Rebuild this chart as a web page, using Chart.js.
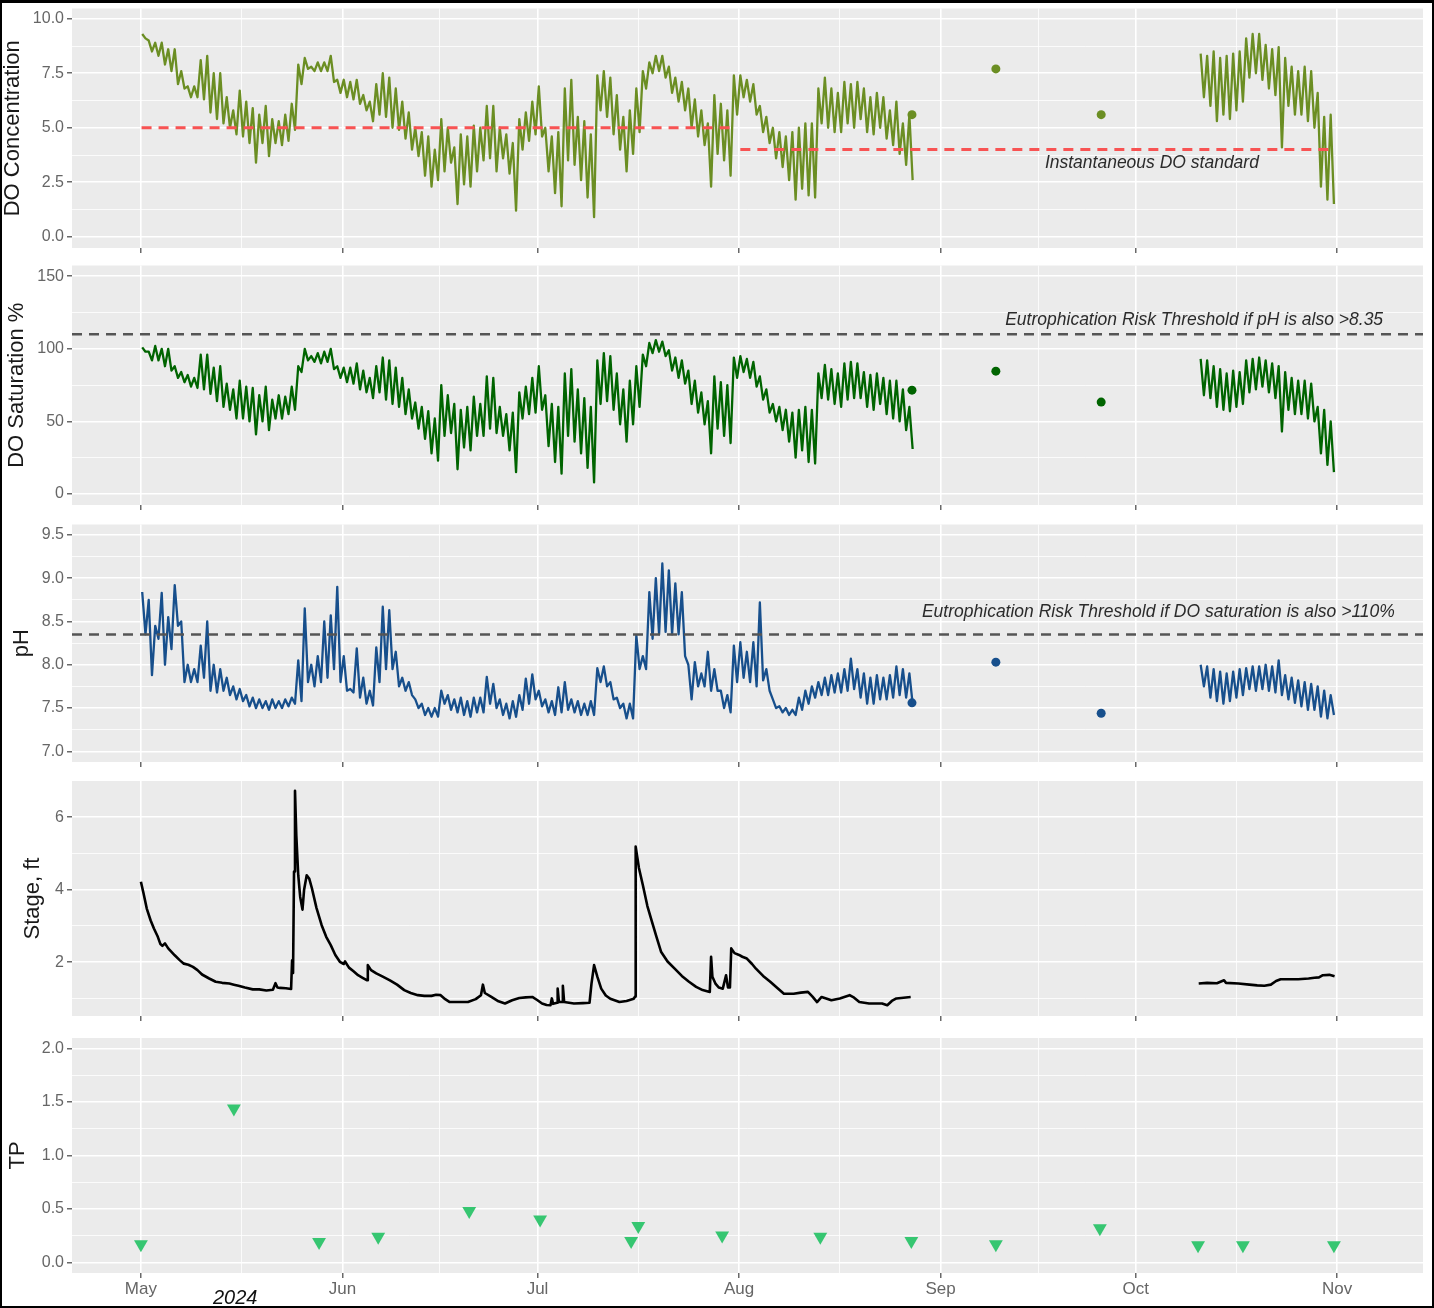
<!DOCTYPE html>
<html><head><meta charset="utf-8">
<script src="https://cdn.jsdelivr.net/npm/chart.js@4.4.1/dist/chart.umd.min.js"></script>
<style>
html,body{margin:0;padding:0;background:#fff;}
#wrap{position:relative;width:1434px;height:1308px;overflow:hidden;background:#fff;}
#wrap canvas{position:absolute;left:0;}
#frame{position:absolute;left:0;top:0;width:1434px;height:1308px;box-sizing:border-box;border:2px solid #000;border-top-width:3px;pointer-events:none;}
</style></head><body>
<div id="wrap">
<canvas id="c1" width="1434" height="252" style="top:4px"></canvas>
<canvas id="c2" width="1434" height="252" style="top:261px"></canvas>
<canvas id="c3" width="1434" height="250" style="top:520px"></canvas>
<canvas id="c4" width="1434" height="247" style="top:777px"></canvas>
<canvas id="c5" width="1434" height="278" style="top:1030px"></canvas>
<div id="frame"></div>
</div>
<script>
// ---------- x axis (days since 2024-05-01) ----------
const monthStarts = [0, 31, 61, 92, 123, 153, 184];
const monthLabels = ['May', 'Jun', 'Jul', 'Aug', 'Sep', 'Oct', 'Nov'];
const midMonths = [15.5, 46, 76.5, 107.5, 138, 168.5];
const dayMin = -10.6, dayMax = 197.2;
const yearLabel = '2024';

// ---------- sampling of continuous sondes (alternating daily high / low) ----------
const summerStart = 0.2;   // first reading, May 1
const fallStart = 163.0;   // redeployment, Oct 11
const stepDays = 0.5;

// DO concentration (mg/L)
const doSummer = [9.3,9.1, 9.0,8.5, 8.9,8.3, 8.9,7.9, 8.6,7.6, 8.6,7.0, 7.6,6.8, 6.9,6.4, 6.9,6.4, 8.1,6.3,
 8.3,5.7, 7.5,5.4, 7.5,5.2, 6.4,5.0, 5.8,4.7, 6.7,4.6, 6.2,4.3, 5.9,3.4, 5.6,4.3, 6.0,3.7,
 5.4,4.3, 5.3,4.2, 5.6,4.4, 6.1,4.9, 7.9,7.0, 8.2,7.7, 7.8,7.6, 8.0,7.6, 8.0,7.6, 8.3,7.1,
 7.2,6.6, 7.2,6.4, 7.1,6.3, 7.2,6.1, 6.5,5.8, 6.2,5.3, 7.0,5.6, 7.5,5.5, 7.3,5.0, 6.8,4.9,
 6.2,4.5, 5.7,4.0, 5.0,3.7, 4.8,2.8, 4.6,2.3, 4.0,2.6, 5.4,3.0, 5.0,3.4, 4.1,1.5, 4.7,2.4,
 4.6,2.3, 5.1,3.0, 5.0,3.5, 6.0,3.6, 6.0,3.0, 5.0,3.6, 4.7,2.9, 4.3,1.2, 5.4,4.0, 5.7,4.4,
 6.2,4.7, 6.9,4.6, 5.0,3.0, 4.6,2.0, 4.8,1.4, 6.8,3.5, 7.2,3.3, 5.5,2.6, 5.3,1.8, 4.7,0.9,
 7.4,5.8, 7.6,5.5, 7.3,4.7, 6.5,4.0, 5.5,3.0, 5.8,3.8, 6.8,4.8, 7.6,6.8, 8.0,7.5, 8.3,7.6,
 8.3,7.3, 7.8,6.6, 7.3,6.2, 7.1,5.8, 6.8,5.0, 6.3,4.6, 5.8,4.2, 5.2,2.3, 6.5,3.8, 6.1,3.5,
 5.8,2.8, 7.4,5.6, 7.4,6.4, 7.2,6.2, 7.0,5.6, 6.0,4.8, 5.5,4.3, 5.0,3.6, 4.8,3.2, 4.6,2.6,
 4.8,1.7, 5.0,2.2, 5.2,1.9, 5.2,1.8, 6.8,5.2, 7.3,5.0, 6.8,4.8, 6.6,4.8, 7.1,5.2, 7.0,5.0,
 7.1,5.4, 6.8,4.8, 6.4,4.7, 6.6,5.0, 6.4,4.5, 5.8,4.2, 6.2,3.8, 5.2,3.3, 5.6,2.6];
const doFall = [8.4,6.4, 8.3,6.0, 8.5,5.3, 8.2,5.6, 8.3,5.4, 8.4,5.8, 8.5,6.2, 9.1,7.3, 9.3,7.5, 9.3,7.2,
 8.8,6.8, 8.6,6.5, 8.7,4.1, 8.2,6.0, 7.8,5.6, 7.6,5.6, 7.8,5.3, 7.6,5.0, 6.6,2.3, 5.5,1.7, 5.6,1.5];

// DO saturation (%)
const satSummer = [101,98, 98,92, 102,92, 100,88, 100,85, 88,80, 84,77, 82,74, 80,73, 96,72,
 96,69, 87,64, 88,60, 76,58, 72,52, 78,52, 74,50, 73,41, 68,50, 74,44,
 65,52, 68,52, 67,55, 74,58, 88,84, 100,92, 95,91, 97,90, 98,91, 100,86,
 88,80, 87,77, 87,76, 90,72, 85,70, 80,66, 88,70, 94,65, 92,62, 87,60,
 80,55, 72,52, 63,45, 60,38, 57,28, 52,23, 75,40, 68,42, 62,17, 58,32,
 60,30, 67,40, 62,40, 81,45, 80,42, 60,40, 55,30, 56,15, 70,52, 74,55,
 80,56, 88,58, 68,33, 62,22, 60,14, 83,40, 86,36, 72,28, 66,18, 60,8,
 92,62, 97,64, 95,58, 83,48, 72,36, 78,48, 88,60, 96,88, 104,97, 106,98,
 105,95, 99,85, 94,80, 92,76, 85,62, 78,56, 70,48, 64,28, 81,45, 77,40,
 75,35, 94,80, 95,84, 93,80, 91,74, 81,65, 72,56, 62,50, 60,44, 58,36,
 56,25, 58,30, 60,22, 58,21, 83,66, 89,65, 86,62, 83,60, 90,65, 91,66,
 90,66, 84,60, 82,58, 83,62, 80,55, 78,52, 78,50, 72,44, 60,31];
const satFall = [93,68, 92,66, 88,60, 86,58, 83,57, 85,60, 84,62, 92,70, 93,72, 94,74,
 92,70, 90,66, 88,43, 84,58, 80,55, 78,55, 78,52, 76,50, 60,28, 58,20, 50,15];

// pH
const phSummer = [8.84,8.35, 8.75,7.88, 8.45,8.30, 8.83,8.00, 8.55,8.18, 8.92,8.45, 8.50,7.80, 8.00,7.80, 7.95,7.80, 8.22,7.85,
 8.50,7.70, 8.00,7.68, 7.95,7.70, 7.85,7.65, 7.75,7.60, 7.72,7.58, 7.65,7.52, 7.62,7.50, 7.60,7.50, 7.58,7.48,
 7.60,7.50, 7.58,7.50, 7.60,7.52, 7.62,7.55, 8.05,7.58, 8.65,7.80, 8.00,7.75, 8.10,7.80, 8.50,7.85, 8.57,7.95,
 8.90,7.80, 8.10,7.70, 7.72,7.68, 8.19,7.62, 7.85,7.55, 7.70,7.53, 8.20,7.80, 8.67,7.95, 8.63,7.95, 8.15,7.75,
 7.85,7.70, 7.80,7.65, 7.60,7.50, 7.55,7.42, 7.50,7.40, 7.50,7.40, 7.70,7.55, 7.65,7.48, 7.60,7.45, 7.62,7.42,
 7.58,7.40, 7.62,7.45, 7.62,7.45, 7.86,7.55, 7.78,7.50, 7.60,7.42, 7.55,7.38, 7.58,7.40, 7.65,7.48, 7.84,7.55,
 7.89,7.60, 7.70,7.52, 7.60,7.45, 7.58,7.42, 7.74,7.45, 7.80,7.48, 7.60,7.45, 7.58,7.42, 7.55,7.42, 7.58,7.42,
 7.96,7.80, 7.98,7.75, 7.80,7.60, 7.62,7.50, 7.55,7.38, 7.55,7.38, 8.34,7.95, 8.10,7.95, 8.84,8.30, 9.00,8.35,
 9.17,8.38, 9.09,8.35, 8.94,8.35, 8.84,8.10, 8.00,7.60, 8.03,7.75, 7.90,7.75, 8.15,7.70, 7.95,7.70, 7.70,7.50,
 7.65,7.45, 8.22,7.80, 8.26,7.85, 8.15,7.80, 8.26,7.75, 8.72,7.82, 7.95,7.70, 7.60,7.50, 7.52,7.45, 7.50,7.42,
 7.48,7.42, 7.62,7.48, 7.70,7.55, 7.75,7.62, 7.80,7.65, 7.85,7.65, 7.88,7.68, 7.90,7.68, 7.95,7.70, 8.07,7.72,
 7.95,7.62, 7.90,7.55, 7.85,7.55, 7.88,7.60, 7.85,7.60, 7.88,7.62, 7.98,7.65, 7.95,7.62, 7.90,7.55];
const phFall = [8.00,7.75, 7.98,7.62, 7.95,7.58, 7.92,7.55, 7.90,7.58, 7.92,7.62, 7.95,7.65, 7.96,7.72, 7.98,7.70, 7.98,7.72,
 8.00,7.70, 7.98,7.68, 8.05,7.65, 7.88,7.60, 7.85,7.56, 7.82,7.52, 7.80,7.48, 7.78,7.48, 7.75,7.40, 7.70,7.38, 7.65,7.42];

// discrete grab readings (points)
const grabDays = [118.6, 131.5, 147.7];
const doGrab = [5.6, 7.7, 5.6];
const satGrab = [71.5, 84.6, 63.3];
const phGrab = [7.56, 8.03, 7.44];

// Stage (ft)
const stageDays = [0.0,0.4,0.9,1.5,2.0,2.6,3.0,3.3,3.7,4.2,5.2,6.0,6.6,7.3,8.0,8.7,9.4,10.5,11.5,12.5,13.6,14.3,15.0,16.0,17.2,18.2,19.3,20.3,20.7,21.0,21.4,22.3,23.1,23.25,23.4,23.55,23.7,23.9,24.2,24.5,24.85,25.1,25.5,25.9,26.3,27.0,27.8,28.5,29.2,29.9,30.6,31.2,31.4,32.0,32.7,33.4,34.1,34.8,34.9,35.4,36.2,37.2,38.3,39.4,40.5,41.5,42.6,43.6,44.7,45.4,46.1,46.8,47.5,48.9,50.3,51.5,52.3,52.6,52.9,53.9,55.0,56.0,57.1,58.2,59.2,60.2,61.0,61.7,62.4,63.0,63.2,63.4,64.0,64.1,64.3,64.8,64.9,65.1,66.6,68.0,69.0,69.3,69.7,70.2,70.8,71.5,72.2,73.6,74.7,75.8,76.0,76.1,76.6,77.2,77.9,78.6,79.3,80.0,81.0,82.1,83.2,84.3,85.4,86.4,87.5,87.7,87.9,88.4,88.9,89.5,90.0,90.3,90.6,90.8,91.3,92.0,92.5,93.2,94.0,94.6,95.7,96.8,97.8,98.9,100.4,101.5,102.6,103.3,104.0,104.7,105.4,106.2,107.5,109.0,109.7,110.5,112.0,113.3,114.0,114.8,115.5,116.2,117.3,118.4];
const stageVals = [4.22,3.9,3.48,3.15,2.93,2.7,2.5,2.45,2.52,2.38,2.19,2.05,1.96,1.93,1.87,1.78,1.66,1.55,1.46,1.43,1.41,1.38,1.35,1.30,1.25,1.25,1.22,1.24,1.42,1.30,1.29,1.28,1.26,2.05,1.7,4.5,6.73,5.5,4.4,3.8,3.45,4.0,4.4,4.3,4.04,3.5,3.02,2.7,2.47,2.2,2.01,1.95,2.02,1.85,1.75,1.64,1.57,1.5,1.92,1.78,1.69,1.6,1.5,1.38,1.23,1.15,1.09,1.07,1.07,1.1,1.09,0.98,0.9,0.9,0.9,0.98,1.09,1.38,1.15,1.04,0.92,0.86,0.95,1.01,1.03,1.04,0.95,0.86,0.82,0.81,1.0,0.85,0.88,1.27,0.9,0.9,1.35,0.9,0.86,0.87,0.88,1.4,1.92,1.6,1.27,1.08,0.99,0.9,0.93,0.99,1.05,5.19,4.6,4.13,3.55,3.12,2.7,2.29,2.02,1.82,1.62,1.46,1.32,1.23,1.18,2.15,1.6,1.4,1.3,1.27,1.64,1.3,1.3,2.38,2.25,2.2,2.15,2.1,1.95,1.82,1.62,1.46,1.3,1.13,1.13,1.16,1.18,1.05,0.9,1.04,1.0,0.95,1.0,1.09,1.02,0.9,0.86,0.86,0.86,0.81,0.93,1.0,1.02,1.04];
const stageFallDays = [162.7,164.0,165.5,166.6,166.9,168.8,170.5,171.7,172.8,173.8,174.6,175.3,176.5,178.0,179.6,180.5,181.2,181.8,182.8,183.6];
const stageFallVals = [1.41,1.43,1.42,1.5,1.43,1.41,1.38,1.36,1.35,1.38,1.48,1.53,1.53,1.53,1.55,1.57,1.58,1.64,1.65,1.61];

// Total phosphorus (mg/L)
const tpDays = [0, 14.3, 27.4, 36.5, 50.5, 61.4, 75.4, 76.5, 89.4, 104.5, 118.5, 131.5, 147.5, 162.6, 169.5, 183.5];
const tpVals = [0.17, 1.44, 0.19, 0.24, 0.48, 0.40, 0.20, 0.34, 0.25, 0.24, 0.20, 0.17, 0.32, 0.16, 0.16, 0.16];

// thresholds
const doStdDays = [[0.1, 90.9], [92.2, 182.9]];
const doStdVals = [5, 4];
const satThreshold = 110;
const phThreshold = 8.35;

// axis ticks
const doTicks = [0, 2.5, 5, 7.5, 10], doMinor = [1.25, 3.75, 6.25, 8.75];
const satTicks = [0, 50, 100, 150], satMinor = [25, 75, 125];
const phTicks = [7, 7.5, 8, 8.5, 9, 9.5], phMinor = [7.25, 7.75, 8.25, 8.75, 9.25];
const stageTicks = [2, 4, 6], stageMinor = [1, 3, 5];
const tpTicks = [0, 0.5, 1, 1.5, 2], tpMinor = [0.25, 0.75, 1.25, 1.75];

// ---------- helpers ----------
Chart.defaults.font.family = "'Liberation Sans', Arial, sans-serif";
Chart.defaults.animation = false;

function sampled(start, vals) { return vals.map((v, i) => ({x: start + i * stepDays, y: v})); }
function pairs(xs, ys) { return xs.map((x, i) => ({x: x, y: ys[i]})); }
const GAP = {x: 140, y: null};

const bgPlugin = {
  id: 'panelBg',
  beforeDraw(chart) {
    const {ctx, chartArea: a} = chart;
    ctx.save(); ctx.fillStyle = '#EBEBEB';
    ctx.fillRect(a.left, a.top, a.right - a.left, a.bottom - a.top);
    ctx.restore();
  }
};
function notes(items) {
  return {
    id: 'notes',
    afterDraw(chart) {
      const {ctx} = chart, xs = chart.scales.x, ys = chart.scales.y;
      items.forEach(n => {
        ctx.save();
        ctx.font = n.font; ctx.fillStyle = n.color;
        ctx.textAlign = 'center'; ctx.textBaseline = 'middle';
        const px = xs.getPixelForValue(n.x);
        const py = n.below != null ? chart.chartArea.bottom + n.below : ys.getPixelForValue(n.y);
        ctx.fillText(n.text, px, py);
        ctx.restore();
      });
    }
  };
}
function isIn(arr, c) { return !!(c && c.tick) && arr.includes(c.tick.value); }

function yScale(p) {
  return {
    type: 'linear', min: p.min, max: p.max,
    afterBuildTicks: s => { s.ticks = p.ticks.concat(p.minor).sort((a, b) => a - b).map(v => ({value: v})); },
    afterFit: s => { s.width = 72; s.paddingTop = 0; s.paddingBottom = 0; },
    ticks: {autoSkip: false, padding: 3, color: '#666666', font: {size: 16, lineHeight: 1},
      callback: v => p.ticks.includes(v) ? p.fmt(v) : ''},
    grid: {color: '#ffffff', lineWidth: c => isIn(p.ticks, c) ? 1.6 : 0.8, drawTicks: true, tickLength: 5,
      tickWidth: 1.2, tickColor: c => isIn(p.ticks, c) ? '#444' : 'rgba(0,0,0,0)'},
    border: {display: false},
    title: {display: true, text: p.title, color: '#1a1a1a', font: {size: 22}, padding: {top: p.titlePad, bottom: 0}}
  };
}
function xScale(showLabels, axisH) {
  return {
    type: 'linear', min: dayMin, max: dayMax,
    afterBuildTicks: s => { s.ticks = monthStarts.concat(midMonths).sort((a, b) => a - b).map(v => ({value: v})); },
    afterFit: s => { s.height = axisH; s.paddingLeft = 0; s.paddingRight = 0; },
    ticks: {autoSkip: false, maxRotation: 0, minRotation: 0, padding: 3, color: '#666666', font: {size: 17, lineHeight: 1},
      callback: v => { const i = monthStarts.indexOf(v); return showLabels && i >= 0 ? monthLabels[i] : ''; }},
    grid: {color: '#ffffff', lineWidth: c => isIn(monthStarts, c) ? 1.6 : 0.8, drawTicks: true, tickLength: 5,
      tickWidth: 1.2, tickColor: c => isIn(monthStarts, c) ? '#444' : 'rgba(0,0,0,0)'},
    border: {display: false}
  };
}
function panel(id, datasets, y, axisH, showLabels, noteItems) {
  return new Chart(document.getElementById(id), {
    type: 'line',
    data: {datasets: datasets},
    options: {
      responsive: false, animation: false, parsing: true,
      layout: {padding: {left: 0, right: 11, top: 4, bottom: 0}},
      plugins: {legend: {display: false}, tooltip: {enabled: false}},
      elements: {line: {tension: 0}, point: {radius: 0}},
      scales: {x: xScale(showLabels, axisH), y: yScale(y)}
    },
    plugins: [bgPlugin, notes(noteItems)]
  });
}
const noteFont = "italic 17.5px 'Liberation Sans', Arial, sans-serif";
function hline(xs, v, color, width, dash) {
  return {type: 'line', data: [{x: xs[0], y: v}, {x: xs[1], y: v}], borderColor: color, borderWidth: width,
    borderDash: dash, pointRadius: 0, spanGaps: false};
}
function seriesLine(pts, color, w) {
  return {type: 'line', data: pts, borderColor: color, borderWidth: w, pointRadius: 0, spanGaps: false, borderJoinStyle: 'round'};
}
function dots(pts, color, r) {
  return {type: 'scatter', data: pts, showLine: false, pointRadius: r, pointBackgroundColor: color, pointBorderColor: color, pointBorderWidth: 0};
}

// ---------- panel 1: DO concentration ----------
const olive = '#6B8E23';
panel('c1', [
  {type: 'line', data: [{x: doStdDays[0][0], y: doStdVals[0]}, {x: doStdDays[0][1], y: doStdVals[0]}, {x: 91.5, y: null},
     {x: doStdDays[1][0], y: doStdVals[1]}, {x: doStdDays[1][1], y: doStdVals[1]}],
   borderColor: '#F85353', borderWidth: 3, borderDash: [10, 7], pointRadius: 0, spanGaps: false},
  seriesLine(sampled(summerStart, doSummer).concat([GAP], sampled(fallStart, doFall)), olive, 2.3),
  dots(pairs(grabDays, doGrab), olive, 4.5)
], {min: -0.515, max: 10.47, ticks: doTicks, minor: doMinor, fmt: v => v.toFixed(1), title: 'DO Concentration', titlePad: 0},
  8, false, [{text: 'Instantaneous DO standard', x: 155.5, y: 3.4, font: noteFont, color: '#2b2b2b'}]);

// ---------- panel 2: DO saturation ----------
const dgreen = '#006400';
panel('c2', [
  hline([dayMin, dayMax], satThreshold, '#555555', 2.6, [10, 7]),
  seriesLine(sampled(summerStart, satSummer).concat([GAP], sampled(fallStart, satFall)), dgreen, 2.3),
  dots(pairs(grabDays, satGrab), dgreen, 4.5)
], {min: -7.6, max: 157.4, ticks: satTicks, minor: satMinor, fmt: v => String(v), title: 'DO Saturation %', titlePad: 4},
  8, false, [{text: 'Eutrophication Risk Threshold if pH is also >8.35', x: 162, y: 119.7, font: noteFont, color: '#2b2b2b'}]);

// ---------- panel 3: pH ----------
const blue = '#174F8C';
panel('c3', [
  hline([dayMin, dayMax], phThreshold, '#555555', 2.6, [10, 7]),
  seriesLine(sampled(summerStart, phSummer).concat([GAP], sampled(fallStart, phFall)), blue, 2.3),
  dots(pairs(grabDays, phGrab), blue, 4.5)
], {min: 6.877, max: 9.62, ticks: phTicks, minor: phMinor, fmt: v => v.toFixed(1), title: 'pH', titlePad: 9},
  8, false, [{text: 'Eutrophication Risk Threshold if DO saturation is also >110%', x: 156.5, y: 8.605, font: noteFont, color: '#2b2b2b'}]);

// ---------- panel 4: stage ----------
panel('c4', [
  seriesLine(pairs(stageDays, stageVals).concat([GAP], pairs(stageFallDays, stageFallVals)), '#000000', 2.6)
], {min: 0.515, max: 7.0, ticks: stageTicks, minor: stageMinor, fmt: v => String(v), title: 'Stage, ft', titlePad: 20},
  8, false, []);

// ---------- panel 5: TP ----------
panel('c5', [
  {type: 'scatter', data: pairs(tpDays, tpVals), showLine: false, pointStyle: 'triangle', rotation: 180,
   pointRadius: 8, pointBackgroundColor: '#36C671', pointBorderColor: '#36C671', pointBorderWidth: 0}
], {min: -0.1, max: 2.1, ticks: tpTicks, minor: tpMinor, fmt: v => v.toFixed(1), title: 'TP', titlePad: 5},
  35, true, [{text: yearLabel, x: 14.5, below: 25, font: "italic 20px 'Liberation Sans', Arial, sans-serif", color: '#111111'}]);
</script>
</body></html>
